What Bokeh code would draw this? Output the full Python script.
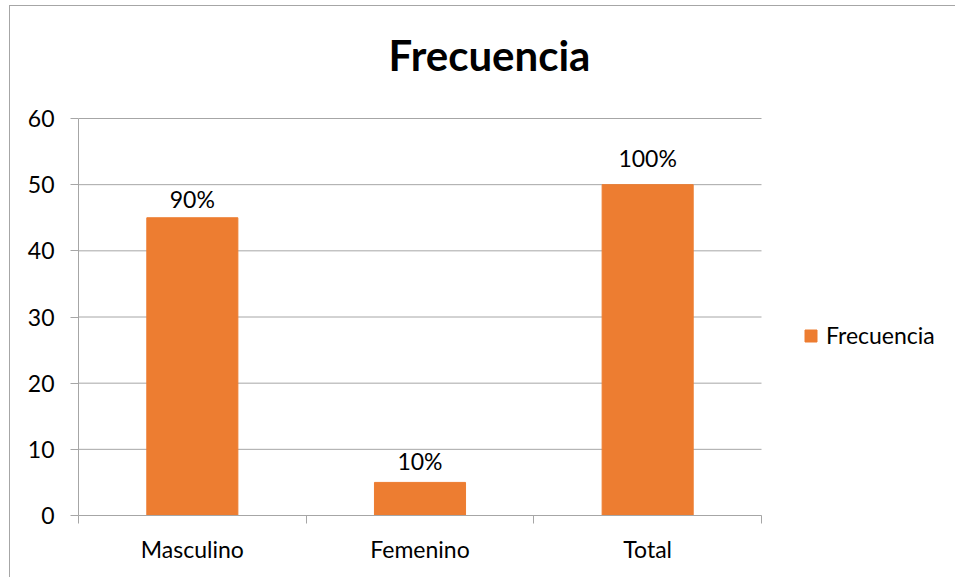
from bokeh.plotting import figure
from bokeh.models import FixedTicker, Range1d, Legend, LegendItem, ColumnDataSource, LabelSet, Label
from bokeh.embed import file_html
from bokeh.resources import INLINE
from bokeh.core.properties import value

categories = ["Masculino", "Femenino", "Total"]
frecuencia = [45, 5, 50]
porcentajes = ["90%", "10%", "100%"]
y_ticks = [0, 10, 20, 30, 40, 50, 60]
titulo = "Frecuencia"

# styling (pixel offsets of the data labels above each bar)
label_offsets = [10, 12, 18]

FONT = "Lato"
GRAY = "#a6a6a6"
ORANGE = "#ED7D31"

n = len(categories)
ymax = y_ticks[-1]
xpos = [i + 0.5 for i in range(n)]
bounds = list(range(n + 1))
src = ColumnDataSource(dict(x=xpos, top=frecuencia, label=porcentajes, off=label_offsets))

# The frame fills the canvas to the right and top so that the legend and the title
# (drawn inside it) are not clipped; the plotting area proper (0..n, 0..ymax)
# occupies 683 x 397 px of the 878 x 509 px frame.
x_end = n * 878 / 683
y_end = ymax * 509 / 397

p = figure(width=946, height=572, x_range=Range1d(0, x_end), y_range=Range1d(0, y_end),
           output_backend="svg", toolbar_location=None,
           min_border_left=68, min_border_right=0, min_border_top=0, min_border_bottom=63)
p.margin = (5, 0, 0, 9)
p.styles = {"border-top": "1px solid " + GRAY, "border-left": "1px solid " + GRAY}
p.outline_line_color = None

# horizontal gridlines over the category area only
p.segment(x0=0, x1=n, y0=y_ticks, y1=y_ticks, line_color=GRAY, line_width=1)

r = p.vbar(x="x", top="top", width=0.4, source=src, fill_color=ORANGE, line_color=ORANGE)

labels = LabelSet(x="x", y="top", text="label", source=src, text_align="center",
                  text_baseline="alphabetic", y_offset="off", text_font=value(FONT),
                  text_font_size="23px", text_color="#000000")
p.add_layout(labels)

title = Label(x=411, y=461, x_units="screen", y_units="screen", text=titulo,
              text_align="center", text_baseline="alphabetic", text_font=FONT,
              text_font_style="bold", text_font_size="42px", text_color="#000000")
p.add_layout(title)

# axes
p.xaxis.ticker = FixedTicker(ticks=xpos, minor_ticks=bounds)
p.xaxis.bounds = (0, n)
p.xaxis.major_label_overrides = {x: c for x, c in zip(xpos, categories)}
p.xaxis.major_tick_line_color = None
p.xaxis.major_tick_out = 0
p.xaxis.major_tick_in = 0
p.xaxis.minor_tick_line_color = GRAY
p.xaxis.minor_tick_out = 8
p.xaxis.minor_tick_in = 0
p.xaxis.axis_line_color = GRAY
p.xaxis.major_label_standoff = 11
p.xgrid.grid_line_color = None
p.ygrid.grid_line_color = None

p.yaxis.ticker = FixedTicker(ticks=y_ticks)
p.yaxis.bounds = (0, ymax)
p.yaxis.major_tick_line_color = GRAY
p.yaxis.major_tick_out = 8
p.yaxis.major_tick_in = 0
p.yaxis.minor_tick_line_color = None
p.yaxis.axis_line_color = GRAY
p.yaxis.major_label_standoff = 16

for ax in (p.xaxis, p.yaxis):
    ax.major_label_text_font = FONT
    ax.major_label_text_font_size = "23px"
    ax.major_label_text_color = "#000000"

legend = Legend(items=[LegendItem(label="Frecuencia", renderers=[r])], location=(725, 166),
                padding=0, margin=0, border_line_color=None, background_fill_alpha=0,
                glyph_width=15, glyph_height=15, label_standoff=8,
                label_text_font=FONT, label_text_font_size="23px", label_text_color="#000000")
p.add_layout(legend)

open("out.html", "w").write(file_html(p, INLINE))
